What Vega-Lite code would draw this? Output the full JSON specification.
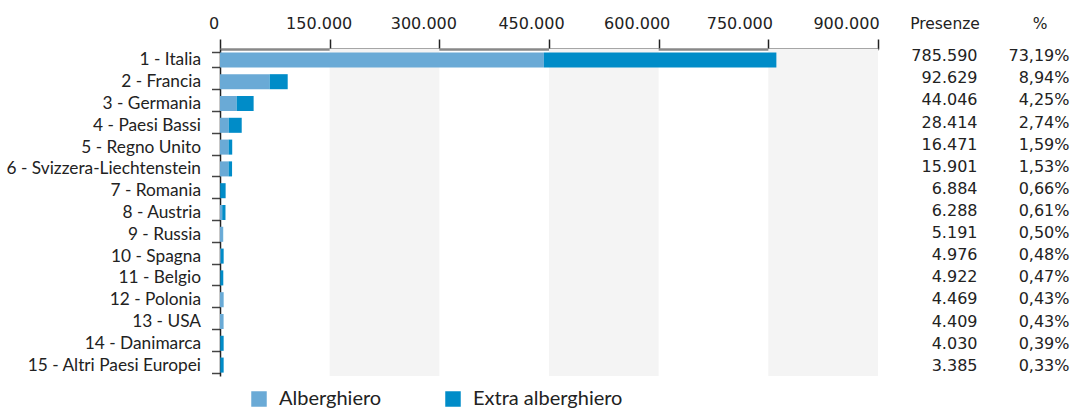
{
  "$schema": "https://vega.github.io/schema/vega-lite/v6.json",
  "padding": 0,
  "background": "white",
  "config": {
    "view": {"stroke": null},
    "locale": {"number": {"decimal": ",", "thousands": ".", "grouping": [3], "currency": ["€", ""]}},
    "legend": {"orient": "none"},
    "axisX": {
      "labelOffset": {"condition": [
        {"test": "datum.value == 0", "value": -6.5},
        {"test": "datum.value == 150000", "value": -11},
        {"test": "datum.value == 300000", "value": -16},
        {"test": "datum.value == 450000", "value": -18},
        {"test": "datum.value == 600000", "value": -22},
        {"test": "datum.value == 750000", "value": -29}
      ], "value": -32}
    }
  },
  "data": {
    "values": [
      {"paese": "1 - Italia", "Alberghiero": 443000, "Extra alberghiero": 318000, "presenze": "785.590", "pct": "73,19%"},
      {"paese": "2 - Francia", "Alberghiero": 68000, "Extra alberghiero": 24600, "presenze": "92.629", "pct": "8,94%"},
      {"paese": "3 - Germania", "Alberghiero": 22800, "Extra alberghiero": 23200, "presenze": "44.046", "pct": "4,25%"},
      {"paese": "4 - Paesi Bassi", "Alberghiero": 11900, "Extra alberghiero": 17800, "presenze": "28.414", "pct": "2,74%"},
      {"paese": "5 - Regno Unito", "Alberghiero": 11700, "Extra alberghiero": 5000, "presenze": "16.471", "pct": "1,59%"},
      {"paese": "6 - Svizzera-Liechtenstein", "Alberghiero": 11700, "Extra alberghiero": 4800, "presenze": "15.901", "pct": "1,53%"},
      {"paese": "7 - Romania", "Alberghiero": 300, "Extra alberghiero": 7400, "presenze": "6.884", "pct": "0,66%"},
      {"paese": "8 - Austria", "Alberghiero": 3000, "Extra alberghiero": 4500, "presenze": "6.288", "pct": "0,61%"},
      {"paese": "9 - Russia", "Alberghiero": 4000, "Extra alberghiero": 300, "presenze": "5.191", "pct": "0,50%"},
      {"paese": "10 - Spagna", "Alberghiero": 1200, "Extra alberghiero": 3800, "presenze": "4.976", "pct": "0,48%"},
      {"paese": "11 - Belgio", "Alberghiero": 500, "Extra alberghiero": 4000, "presenze": "4.922", "pct": "0,47%"},
      {"paese": "12 - Polonia", "Alberghiero": 4800, "Extra alberghiero": 200, "presenze": "4.469", "pct": "0,43%"},
      {"paese": "13 - USA", "Alberghiero": 4800, "Extra alberghiero": 100, "presenze": "4.409", "pct": "0,43%"},
      {"paese": "14 - Danimarca", "Alberghiero": 400, "Extra alberghiero": 4600, "presenze": "4.030", "pct": "0,39%"},
      {"paese": "15 - Altri Paesi Europei", "Alberghiero": 500, "Extra alberghiero": 4500, "presenze": "3.385", "pct": "0,33%"}
    ]
  },
  "bounds": "flush",
  "spacing": 38,
  "hconcat": [
    {
      "width": 658,
      "height": 327,
      "layer": [
        {
          "data": {"values": [{"a": 150000, "b": 300000}, {"a": 450000, "b": 600000}, {"a": 750000, "b": 900000}]},
          "mark": {"type": "rect", "color": "#f4f4f4"},
          "encoding": {
            "x": {"field": "a", "type": "quantitative", "scale": {"domain": [0, 900000], "nice": false},
              "axis": {"orient": "top", "values": [0, 150000, 300000, 450000, 600000, 750000, 900000], "format": ",d", "title": null, "grid": false,
                "domainColor": "#888", "domainWidth": 2.5, "tickColor": "#222", "tickSize": 10, "tickWidth": 1.5,
                "labelFont": "DejaVu Sans", "labelFontSize": 16, "labelColor": "#222", "labelPadding": 8, "labelFlush": false,
                "minExtent": 49, "maxExtent": 49}},
            "x2": {"field": "b"}
          }
        },
        {
          "transform": [{"fold": ["Alberghiero", "Extra alberghiero"], "as": ["tipo", "valore"]}],
          "mark": {"type": "bar"},
          "encoding": {
            "y": {"field": "paese", "type": "nominal", "sort": null, "scale": {"paddingInner": 0.31, "paddingOuter": 0.155},
              "axis": {"title": null, "tickBand": "extent", "tickSize": 8.5, "tickColor": "#444", "tickWidth": 1.5,
                "domainColor": "#222", "domainWidth": 1.5, "labelFont": "Lato", "labelFontSize": 17.3, "labelColor": "#222",
                "labelPadding": 11, "labelLimit": 0, "minExtent": 220, "maxExtent": 220}},
            "x": {"field": "valore", "type": "quantitative", "stack": "zero",
              "axis": {"orient": "top", "values": [0, 150000, 300000, 450000, 600000, 750000, 900000], "format": ",d", "title": null, "grid": false,
                "domainColor": "#888", "domainWidth": 2.5, "tickColor": "#222", "tickSize": 10, "tickWidth": 1.5,
                "labelFont": "DejaVu Sans", "labelFontSize": 16, "labelColor": "#222", "labelPadding": 8, "labelFlush": false,
                "minExtent": 49, "maxExtent": 49}},
            "color": {"field": "tipo", "type": "nominal",
              "scale": {"domain": ["Alberghiero", "Extra alberghiero"], "range": ["#6aaad6", "#008cc8"]},
              "legend": {"title": null, "orient": "none", "legendX": 29, "legendY": 340, "direction": "horizontal",
                "symbolType": "square", "symbolSize": 240, "symbolStrokeWidth": 0, "labelFont": "Lato", "labelFontSize": 20,
                "labelColor": "#222", "labelOffset": 10, "columnPadding": 61}},
            "order": {"field": "tipo"}
          }
        }
      ]
    },
    {
      "width": 152,
      "height": 327,
      "encoding": {
        "y": {"field": "paese", "type": "nominal", "sort": null, "scale": {"type": "point", "padding": 0.39}, "axis": null}
      },
      "layer": [
        {
          "mark": {"type": "text", "align": "right", "baseline": "middle", "font": "DejaVu Sans", "fontSize": 16, "color": "#222", "dx": 33, "dy": -1.5},
          "encoding": {
            "x": {"datum": "Presenze", "type": "nominal", "scale": {"type": "point", "domain": ["Presenze", "%"], "padding": 0.3},
              "axis": {"orient": "top", "title": null, "domain": false, "ticks": true, "tickSize": 10, "tickOpacity": 0,
                "labelFont": "DejaVu Sans", "labelFontSize": 15.5, "labelColor": "#222", "labelPadding": 8, "labelAngle": 0,
                "labelOffset": 0, "minExtent": 49, "maxExtent": 49}},
            "text": {"field": "presenze"}
          }
        },
        {
          "mark": {"type": "text", "align": "right", "baseline": "middle", "font": "DejaVu Sans", "fontSize": 16, "color": "#222", "dx": 30, "dy": -1.5},
          "encoding": {
            "x": {"datum": "%", "type": "nominal"},
            "text": {"field": "pct"}
          }
        }
      ]
    }
  ]
}
